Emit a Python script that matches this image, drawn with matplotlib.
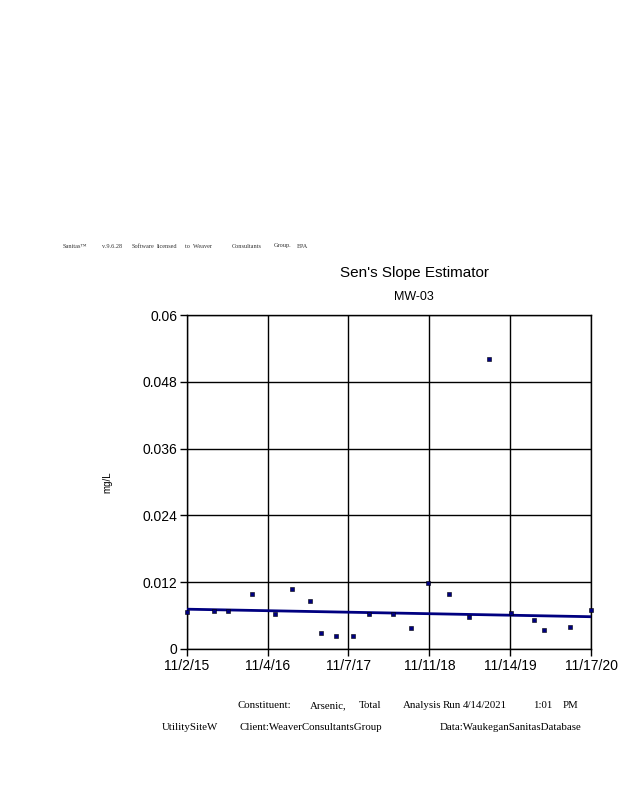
import matplotlib
matplotlib.use("Agg")
import matplotlib.pyplot as plt
import numpy as np
import pandas as pd

# Arsenic, Total at MW-03 (mg/L)
sample_dates = [
    "2015-11-03", "2016-03-04", "2016-05-07", "2016-08-26", "2016-12-06",
    "2017-02-21", "2017-05-16", "2017-07-06", "2017-09-13", "2017-11-28",
    "2018-02-08", "2018-05-28", "2018-08-18", "2018-11-04", "2019-02-09",
    "2019-05-12", "2019-08-10", "2019-11-17", "2020-03-01", "2020-04-17",
    "2020-08-15", "2020-11-16",
]
arsenic = [
    0.0067, 0.0068, 0.0069, 0.0099, 0.0063,
    0.0108, 0.0087, 0.0029, 0.0023, 0.0023,
    0.0063, 0.0062, 0.0038, 0.0119, 0.0099,
    0.0058, 0.0521, 0.0065, 0.0052, 0.0034,
    0.0040, 0.0070,
]

# Sen's slope trend line end points
trend_dates = ["2015-11-02", "2020-11-17"]
trend_values = [0.00715, 0.00580]

x_ticks = ["2015-11-02", "2016-11-04", "2017-11-07", "2018-11-11", "2019-11-14", "2020-11-17"]
x_tick_labels = ["11/2/15", "11/4/16", "11/7/17", "11/11/18", "11/14/19", "11/17/20"]
y_ticks = [0, 0.012, 0.024, 0.036, 0.048, 0.06]
y_tick_labels = ["0", "0.012", "0.024", "0.036", "0.048", "0.06"]

navy = "#000080"
sans = "Liberation Sans"
serif = "Liberation Serif"

fig = plt.figure(figsize=(6.18, 8.0), dpi=100)
ax = fig.add_axes([187 / 618, 151 / 800, 404 / 618, 334 / 800])

ax.plot(pd.to_datetime(trend_dates), trend_values, color=navy, lw=2, zorder=3)
ax.plot(pd.to_datetime(sample_dates), arsenic, linestyle="none", marker="s",
        markersize=3, color=navy, markeredgecolor="black", markeredgewidth=0.4,
        zorder=4, clip_on=False)

xt = pd.to_datetime(x_ticks)
ax.set_xlim(xt[0], xt[-1])
ax.set_ylim(0, 0.06)
ax.set_xticks(xt)
ax.set_xticklabels(x_tick_labels, fontfamily=sans, fontsize=10)
ax.set_yticks(y_ticks)
ax.set_yticklabels(y_tick_labels, fontfamily=sans, fontsize=10)
ax.tick_params(direction="out", length=5, width=1, color="black", pad=2)
ax.grid(True, color="black", lw=1)
for s in ax.spines.values():
    s.set_color("black")
    s.set_linewidth(1)

ax.set_ylabel("mg/L", fontfamily=sans, fontsize=7, labelpad=0)
ax.yaxis.set_label_coords((112 - 187) / 404, 0.5)

fig.text(415 / 618, 1 - 273 / 800, "Sen's Slope Estimator", ha="center", va="center",
         fontfamily=sans, fontsize=11)
fig.text(414 / 618, 1 - 297 / 800, "MW-03", ha="center", va="center",
         fontfamily=sans, fontsize=9)

# header words
header = [("Sanitas\u2122", 63), ("v.9.6.28", 102), ("Software", 132), ("licensed", 157),
          ("to", 185), ("Weaver", 193), ("Consultants", 232), ("Group.", 274), ("EPA", 297)]
for word, px in header:
    fig.text(px / 618, 1 - 246 / 800, word, ha="left", va="center",
             fontfamily=serif, fontsize=4.5, color="#333333")

# footer words
footer1 = [("Constituent:", 238), ("Arsenic,", 310), ("Total", 359), ("Analysis", 403),
           ("Run", 443), ("4/14/2021", 463), ("1:01", 533), ("PM", 563)]
for word, px in footer1:
    fig.text(px / 618, 1 - 706 / 800, word, ha="left", va="center",
             fontfamily=serif, fontsize=7.8)
footer2 = [("UtilitySiteW", 162), ("Client:WeaverConsultantsGroup", 240),
           ("Data:WaukeganSanitasDatabase", 440)]
for word, px in footer2:
    fig.text(px / 618, 1 - 727 / 800, word, ha="left", va="center",
             fontfamily=serif, fontsize=7.8)

fig.savefig("out.png", dpi=100)
